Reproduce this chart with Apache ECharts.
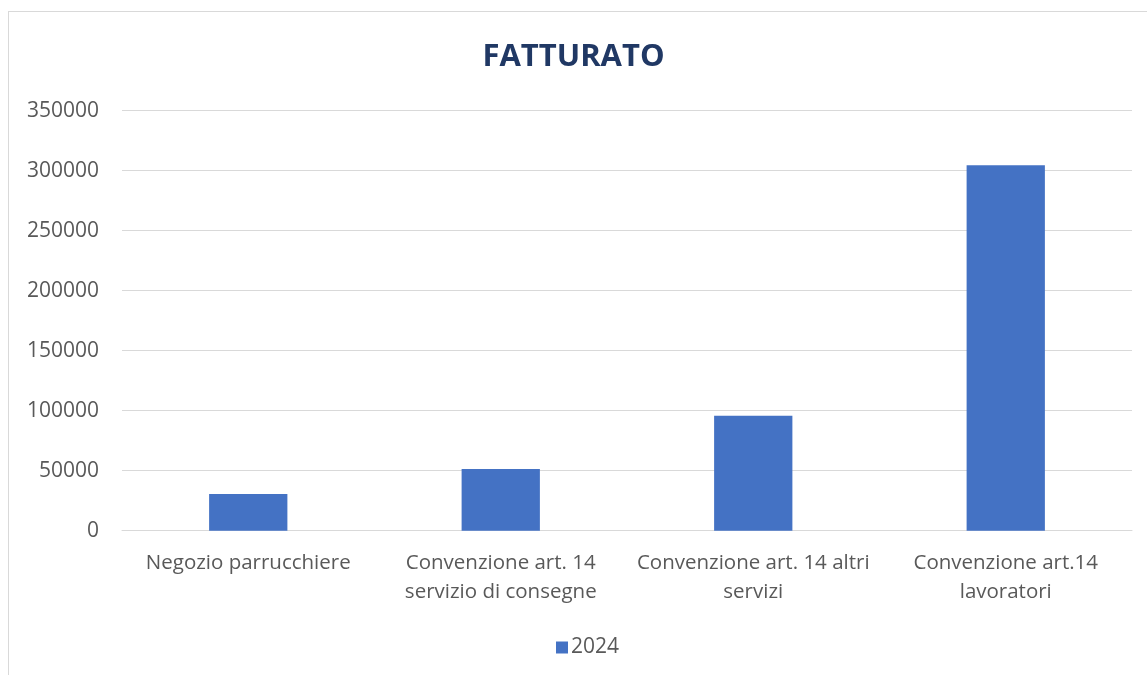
<!DOCTYPE html>
<html>
<head>
<meta charset="utf-8">
<script src="https://cdn.jsdelivr.net/npm/echarts@6/dist/echarts.min.js"></script>
<style>
  html, body { margin: 0; padding: 0; background: #fff; }
  #frame { position: absolute; left: 8px; top: 11px; width: 1160px; height: 700px; border: 1px solid #d9d9d9; box-sizing: border-box; }
  #chart { position: absolute; left: 0; top: 0; width: 1147px; height: 675px; }
</style>
</head>
<body>
<div id="frame"></div>
<div id="chart"></div>
<script>
// dati
const categories = [
  'Negozio parrucchiere',
  'Convenzione art. 14\nservizio di consegne',
  'Convenzione art. 14 altri\nservizi',
  'Convenzione art.14\nlavoratori'
];
const seriesName = '2024';
const values2024 = [30600, 51400, 95800, 304500];

const textColor = '#595959';
const gridColor = '#d9d9d9';
const fontName = '"Open Sans", "Noto Sans", sans-serif';

const myChart = echarts.init(document.getElementById('chart'));
const option = {
  animation: false,
  title: {
    text: 'FATTURATO',
    left: 'center',
    top: 37,
    textStyle: { color: '#203864', fontSize: 31, fontWeight: 'bold', fontFamily: fontName }
  },
  legend: {
    data: [seriesName],
    bottom: 12,
    left: 551,
    itemWidth: 12,
    itemHeight: 12,
    itemGap: 3,
    icon: 'rect',
    textStyle: { color: textColor, fontSize: 21, fontFamily: fontName, padding: [0, 0, 0, -2] }
  },
  grid: { left: 122, right: 15, top: 110.7, bottom: 144.3, containLabel: false },
  xAxis: {
    type: 'category',
    data: categories,
    axisLine: { lineStyle: { color: gridColor, width: 1 } },
    axisTick: { show: false },
    axisLabel: { color: textColor, fontSize: 20.5, fontFamily: fontName, margin: 18, lineHeight: 29, interval: 0, align: 'center' }
  },
  yAxis: {
    type: 'value',
    min: 0,
    max: 350000,
    interval: 50000,
    axisLine: { show: false },
    axisTick: { show: false },
    axisLabel: { color: textColor, fontSize: 21, fontFamily: fontName, margin: 23, formatter: function (v) { return String(v); } },
    splitLine: { lineStyle: { color: gridColor, width: 1 } }
  },
  series: [{
    name: seriesName,
    type: 'bar',
    data: values2024,
    barWidth: '31%',
    itemStyle: { color: '#4472c4' }
  }]
};
// disegna il grafico
myChart.setOption(option);
</script>
</body>
</html>
